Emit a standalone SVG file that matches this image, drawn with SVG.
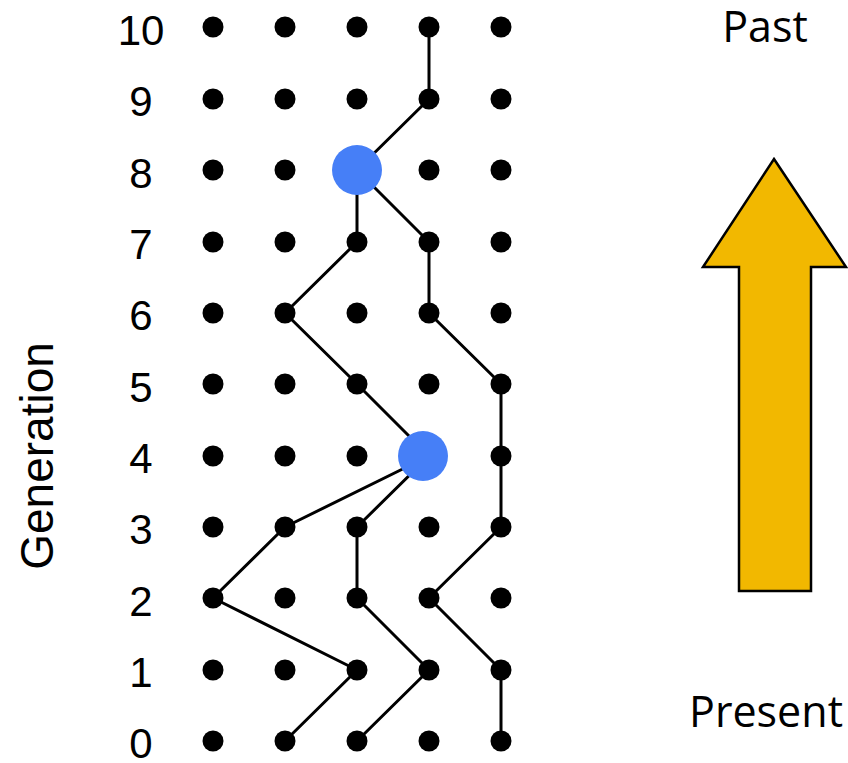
<svg xmlns="http://www.w3.org/2000/svg" width="848" height="763" viewBox="0 0 848 763">
  <style>
    .dot { fill: #000; }
    .hub { fill: #467FF7; }
    .lineage line { stroke: #000; stroke-width: 3; stroke-linecap: round; }
    .gen { font-family: "Liberation Sans", Arial, sans-serif; font-size: 42px; fill: #000; text-anchor: middle; }
    .axis { font-family: "Liberation Sans", Arial, sans-serif; font-size: 46px; fill: #000; text-anchor: middle; }
    .time { font-family: "Open Sans", "Noto Sans", sans-serif; font-size: 43px; fill: #000; text-anchor: middle; }
  </style>
  <defs>
    <circle id="d" r="10.5" class="dot"/>
  </defs>
  <rect width="848" height="763" fill="#fff"/>

  <!-- generation labels -->
  <g id="labels">
    <text class="gen" x="141" y="45">10</text>
    <text class="gen" x="141" y="116">9</text>
    <text class="gen" x="141" y="188">8</text>
    <text class="gen" x="141" y="259">7</text>
    <text class="gen" x="141" y="330">6</text>
    <text class="gen" x="141" y="402">5</text>
    <text class="gen" x="141" y="473">4</text>
    <text class="gen" x="141" y="544">3</text>
    <text class="gen" x="141" y="616">2</text>
    <text class="gen" x="141" y="687">1</text>
    <text class="gen" x="141" y="758">0</text>
    <text class="axis" transform="translate(53,456) rotate(-90)">Generation</text>
  </g>

  <!-- lineage connectors -->
  <g id="connectors" class="lineage">
    <line x1="429" y1="27" x2="429" y2="99"/>
    <line x1="429" y1="99" x2="357" y2="170"/>
    <line x1="357" y1="170" x2="357" y2="242"/>
    <line x1="357" y1="170" x2="429" y2="242"/>
    <line x1="357" y1="242" x2="285" y2="313"/>
    <line x1="285" y1="313" x2="357" y2="384"/>
    <line x1="357" y1="384" x2="429" y2="456"/>
    <line x1="429" y1="242" x2="429" y2="313"/>
    <line x1="429" y1="313" x2="501" y2="384"/>
    <line x1="501" y1="384" x2="501" y2="527"/>
    <line x1="429" y1="456" x2="285" y2="527"/>
    <line x1="429" y1="456" x2="357" y2="527"/>
    <line x1="285" y1="527" x2="213" y2="598"/>
    <line x1="213" y1="598" x2="357" y2="670"/>
    <line x1="357" y1="670" x2="285" y2="741"/>
    <line x1="357" y1="527" x2="357" y2="598"/>
    <line x1="357" y1="598" x2="429" y2="670"/>
    <line x1="429" y1="670" x2="357" y2="741"/>
    <line x1="501" y1="527" x2="429" y2="598"/>
    <line x1="429" y1="598" x2="501" y2="670"/>
    <line x1="501" y1="670" x2="501" y2="741"/>
  </g>

  <!-- individuals, one row per generation -->
  <g id="gen10"><use href="#d" x="213" y="27"/><use href="#d" x="285" y="27"/><use href="#d" x="357" y="27"/><use href="#d" x="429" y="27"/><use href="#d" x="501" y="27"/></g>
  <g id="gen9"><use href="#d" x="213" y="99"/><use href="#d" x="285" y="99"/><use href="#d" x="357" y="99"/><use href="#d" x="429" y="99"/><use href="#d" x="501" y="99"/></g>
  <g id="gen8"><use href="#d" x="213" y="170"/><use href="#d" x="285" y="170"/><circle class="hub" cx="357" cy="170" r="25"/><use href="#d" x="429" y="170"/><use href="#d" x="501" y="170"/></g>
  <g id="gen7"><use href="#d" x="213" y="242"/><use href="#d" x="285" y="242"/><use href="#d" x="357" y="242"/><use href="#d" x="429" y="242"/><use href="#d" x="501" y="242"/></g>
  <g id="gen6"><use href="#d" x="213" y="313"/><use href="#d" x="285" y="313"/><use href="#d" x="357" y="313"/><use href="#d" x="429" y="313"/><use href="#d" x="501" y="313"/></g>
  <g id="gen5"><use href="#d" x="213" y="384"/><use href="#d" x="285" y="384"/><use href="#d" x="357" y="384"/><use href="#d" x="429" y="384"/><use href="#d" x="501" y="384"/></g>
  <g id="gen4"><use href="#d" x="213" y="456"/><use href="#d" x="285" y="456"/><use href="#d" x="357" y="456"/><circle class="hub" cx="423" cy="456" r="25"/><use href="#d" x="501" y="456"/></g>
  <g id="gen3"><use href="#d" x="213" y="527"/><use href="#d" x="285" y="527"/><use href="#d" x="357" y="527"/><use href="#d" x="429" y="527"/><use href="#d" x="501" y="527"/></g>
  <g id="gen2"><use href="#d" x="213" y="598"/><use href="#d" x="285" y="598"/><use href="#d" x="357" y="598"/><use href="#d" x="429" y="598"/><use href="#d" x="501" y="598"/></g>
  <g id="gen1"><use href="#d" x="213" y="670"/><use href="#d" x="285" y="670"/><use href="#d" x="357" y="670"/><use href="#d" x="429" y="670"/><use href="#d" x="501" y="670"/></g>
  <g id="gen0"><use href="#d" x="213" y="741"/><use href="#d" x="285" y="741"/><use href="#d" x="357" y="741"/><use href="#d" x="429" y="741"/><use href="#d" x="501" y="741"/></g>

  <!-- time direction -->
  <g id="time-arrow">
    <text class="time" x="765" y="42">Past</text>
    <polygon points="774,159 846,267 811,267 811,591 739,591 739,267 703,267" fill="#F2B800" stroke="#000" stroke-width="2.5" stroke-linejoin="miter"/>
    <text class="time" x="766" y="727">Present</text>
  </g>
</svg>
